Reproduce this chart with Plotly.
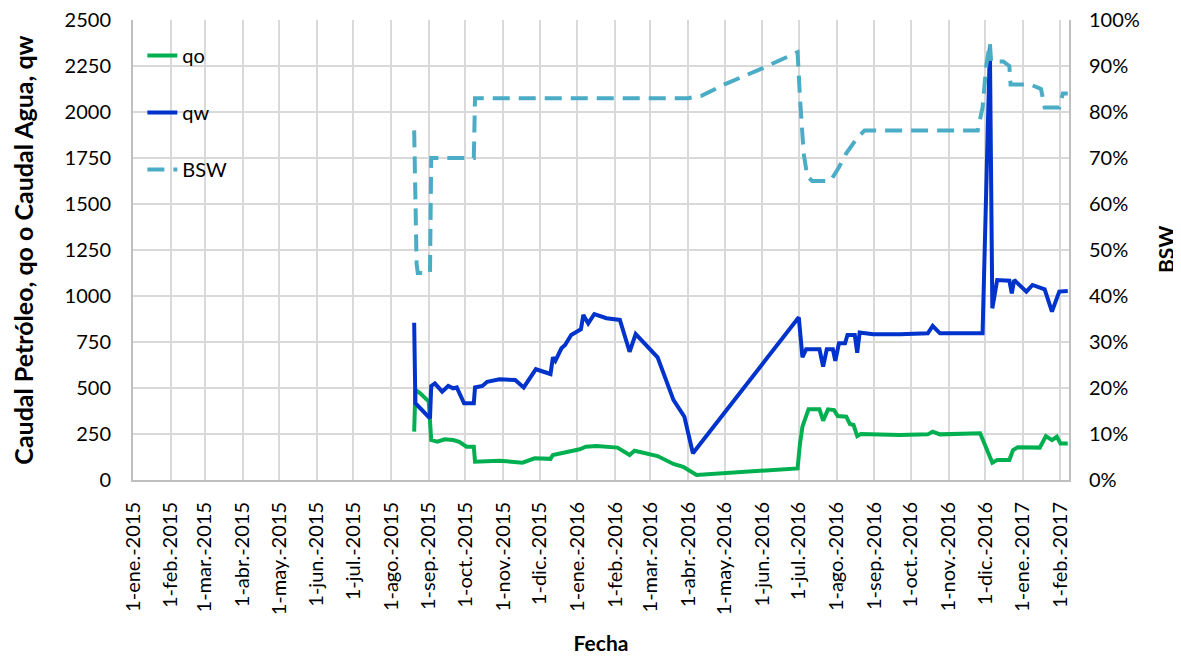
"""
Caudal de petróleo / agua y BSW vs fecha
"""
import plotly.graph_objects as go

# ---- data ----
qw_dates = [
    "2015-08-20", "2015-08-21", "2015-08-25", "2015-09-02", "2015-09-03", "2015-09-06",
    "2015-09-12", "2015-09-17", "2015-09-21", "2015-09-24", "2015-09-30", "2015-10-08",
    "2015-10-09", "2015-10-15", "2015-10-19", "2015-10-29", "2015-11-11", "2015-11-18",
    "2015-11-28", "2015-12-10", "2015-12-12", "2015-12-14", "2015-12-19", "2015-12-22",
    "2015-12-27", "2016-01-04", "2016-01-06", "2016-01-10", "2016-01-15", "2016-01-25",
    "2016-02-05", "2016-02-13", "2016-02-18", "2016-03-07", "2016-03-20", "2016-03-29",
    "2016-04-05", "2016-07-01", "2016-07-04", "2016-07-07", "2016-07-18", "2016-07-21",
    "2016-07-24", "2016-07-29", "2016-07-31", "2016-08-03", "2016-08-08", "2016-08-10",
    "2016-08-16", "2016-08-18", "2016-08-20", "2016-08-31", "2016-09-22", "2016-10-15",
    "2016-10-19", "2016-10-25", "2016-11-29", "2016-12-05", "2016-12-07", "2016-12-11",
    "2016-12-21", "2016-12-23", "2016-12-25", "2017-01-04", "2017-01-09", "2017-01-19",
    "2017-01-25", "2017-01-31", "2017-02-07",
]
qw_values = [
    855, 417, 390, 335, 511, 525,
    480, 511, 498, 503, 417, 417,
    503, 511, 534, 547, 543, 503,
    602, 576, 667, 648, 716, 734,
    788, 819, 897, 851, 902, 879,
    870, 697, 793, 667, 435, 344,
    145, 884, 667, 710, 710, 616,
    710, 710, 648, 743, 743, 788,
    788, 692, 802, 792, 792, 797,
    837, 797, 797, 2355, 933, 1087,
    1083, 1014, 1087, 1024, 1060, 1036,
    915, 1024, 1027,
]

qo_dates = [
    "2015-08-20", "2015-08-21", "2015-08-25", "2015-09-01", "2015-09-03", "2015-09-08",
    "2015-09-14", "2015-09-21", "2015-09-26", "2015-10-02", "2015-10-08", "2015-10-09",
    "2015-10-29", "2015-11-17", "2015-11-27", "2015-12-10", "2015-12-12", "2015-12-20",
    "2016-01-03", "2016-01-08", "2016-01-17", "2016-02-03", "2016-02-13", "2016-02-17",
    "2016-03-07", "2016-03-20", "2016-03-28", "2016-04-08", "2016-06-30", "2016-07-02",
    "2016-07-04", "2016-07-09", "2016-07-18", "2016-07-21", "2016-07-25", "2016-07-30",
    "2016-08-02", "2016-08-09", "2016-08-12", "2016-08-15", "2016-08-18", "2016-08-21",
    "2016-09-22", "2016-10-15", "2016-10-19", "2016-10-25", "2016-11-27", "2016-12-07",
    "2016-12-11", "2016-12-21", "2016-12-24", "2016-12-28", "2017-01-15", "2017-01-20",
    "2017-01-25", "2017-01-29", "2017-02-01", "2017-02-07",
]
qo_values = [
    263, 489, 471, 426, 217, 208,
    221, 217, 208, 181, 181, 99,
    105, 94, 118, 115, 136, 148,
    167, 181, 185, 176, 136, 159,
    130, 87, 72, 27, 63, 199,
    290, 384, 384, 322, 384, 380,
    348, 344, 304, 299, 239, 250,
    245, 248, 263, 248, 254, 94,
    109, 109, 163, 178, 176, 239,
    217, 235, 199, 199,
]

bsw_dates = [
    "2015-08-20", "2015-08-22", "2015-08-23", "2015-09-02", "2015-09-03", "2015-10-08",
    "2015-10-09", "2016-04-01", "2016-04-12", "2016-05-01", "2016-06-01", "2016-06-30",
    "2016-07-02", "2016-07-03", "2016-07-05", "2016-07-08", "2016-07-12", "2016-07-27",
    "2016-08-03", "2016-08-09", "2016-08-17", "2016-08-24", "2016-11-25", "2016-11-29",
    "2016-12-02", "2016-12-05", "2016-12-06", "2016-12-16", "2016-12-21", "2016-12-22",
    "2017-01-07", "2017-01-16", "2017-01-19", "2017-01-31", "2017-02-03", "2017-02-07",
]
bsw_values = [
    76, 47, 45, 45, 70, 70,
    83, 83, 83.5, 86, 89.5, 93,
    83, 78, 71, 66, 65, 65,
    68, 71, 74, 76, 76, 81,
    90, 95, 91, 91, 90, 86,
    86, 85, 81, 81, 84, 84,
]

month_ticks = [
    "2015-01-01", "2015-02-01", "2015-03-01", "2015-04-01", "2015-05-01", "2015-06-01",
    "2015-07-01", "2015-08-01", "2015-09-01", "2015-10-01", "2015-11-01", "2015-12-01",
    "2016-01-01", "2016-02-01", "2016-03-01", "2016-04-01", "2016-05-01", "2016-06-01",
    "2016-07-01", "2016-08-01", "2016-09-01", "2016-10-01", "2016-11-01", "2016-12-01",
    "2017-01-01", "2017-02-01",
]
month_labels = [
    "1-ene.-2015", "1-feb.-2015", "1-mar.-2015", "1-abr.-2015", "1-may.-2015", "1-jun.-2015",
    "1-jul.-2015", "1-ago.-2015", "1-sep.-2015", "1-oct.-2015", "1-nov.-2015", "1-dic.-2015",
    "1-ene.-2016", "1-feb.-2016", "1-mar.-2016", "1-abr.-2016", "1-may.-2016", "1-jun.-2016",
    "1-jul.-2016", "1-ago.-2016", "1-sep.-2016", "1-oct.-2016", "1-nov.-2016", "1-dic.-2016",
    "1-ene.-2017", "1-feb.-2017",
]

FONT = "Lato, 'Open Sans', sans-serif"
GRID = "#d9d9d9"
AXIS = "#bfbfbf"

fig = go.Figure()

fig.add_trace(go.Scatter(
    x=qo_dates, y=qo_values, name="qo", mode="lines", legendgroup="a",
    line=dict(color="#00b050", width=4),
))
fig.add_trace(go.Scatter(
    x=qw_dates, y=qw_values, name="qw", mode="lines", legendgroup="b",
    line=dict(color="#0033cc", width=4),
))
fig.add_trace(go.Scatter(
    x=bsw_dates, y=bsw_values, name="BSW", mode="lines", legendgroup="c", yaxis="y2",
    line=dict(color="#4bacc6", width=4, dash="17px,9px"),
))

# the page body adds an 8px offset, so the figure is a bit smaller than the window
fig.update_layout(
    width=1173, height=648,
    margin=dict(l=125, r=112, t=12, b=176),
    paper_bgcolor="white", plot_bgcolor="white",
    font=dict(family=FONT, size=20, color="black"),
    showlegend=True,
    legend=dict(
        x=0.01, y=0.965, xanchor="left", yanchor="top",
        bgcolor="rgba(0,0,0,0)", font=dict(size=20),
        tracegroupgap=28, traceorder="grouped",
    ),
    xaxis=dict(
        type="date", automargin=False, ticklabeloverflow="allow",
        range=["2015-01-01", "2017-02-08"],
        tickmode="array", tickvals=month_ticks, ticktext=month_labels,
        tickangle=-90, ticklabelstandoff=12,
        showgrid=True, gridcolor=GRID, gridwidth=1.5,
        showline=True, linecolor=AXIS, linewidth=2,
        ticks="", zeroline=False,
        title=dict(text="<b>Fecha</b>", font=dict(size=21), standoff=22),
    ),
    yaxis=dict(
        range=[0, 2500], dtick=250, tick0=0, automargin=False,
        ticklabeloverflow="allow",
        showgrid=True, gridcolor=GRID, gridwidth=1.5,
        showline=True, linecolor=AXIS, linewidth=2,
        ticks="", zeroline=False, ticklabelstandoff=16,
        title=dict(text="<b>Caudal Petróleo, qo o Caudal Agua, qw</b>",
                   font=dict(size=25), standoff=32),
    ),
    yaxis2=dict(
        range=[0, 100], dtick=10, tick0=0, ticksuffix="%", automargin=False,
        ticklabeloverflow="allow",
        overlaying="y", side="right",
        showgrid=False, showline=True, linecolor=AXIS, linewidth=2,
        ticks="", zeroline=False, ticklabelstandoff=14,
    ),
)

# right axis title as an annotation so it stays inside the page
fig.add_annotation(
    text="<b>BSW</b>", xref="paper", yref="paper", x=1, y=0.5,
    xanchor="center", yanchor="middle", xshift=96, textangle=-90,
    showarrow=False, font=dict(size=21),
)

fig.write_html("out.html")
